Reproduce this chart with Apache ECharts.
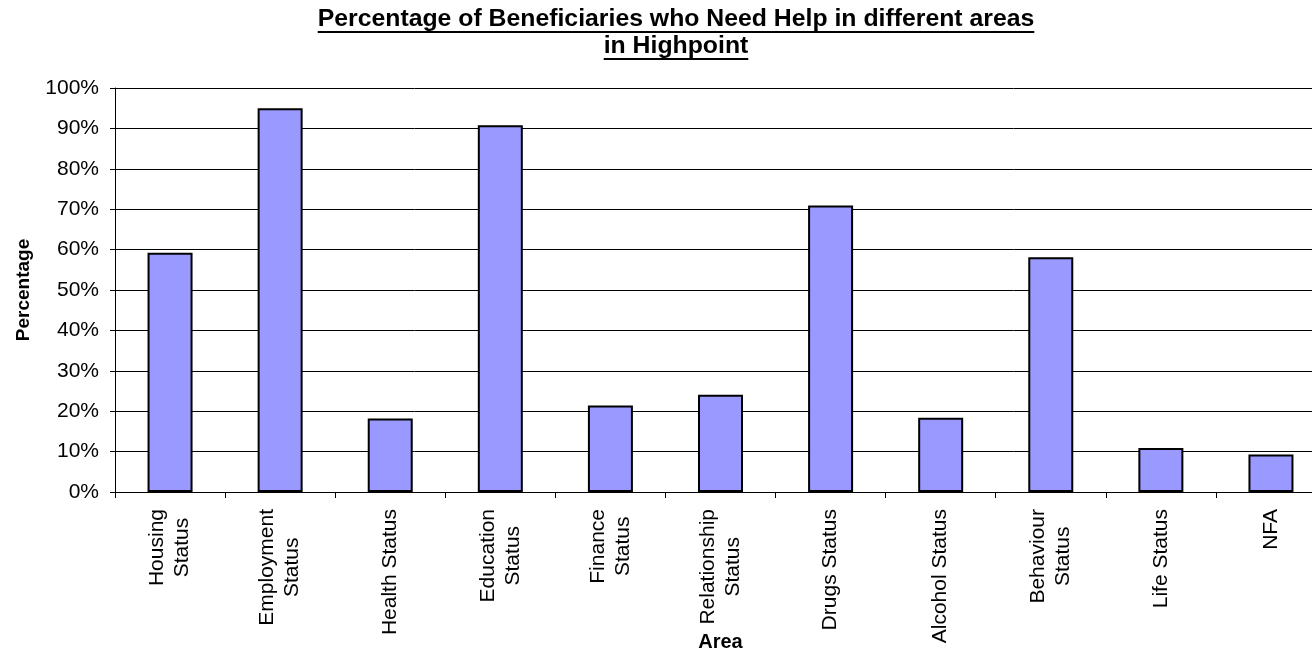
<!DOCTYPE html>
<html>
<head>
<meta charset="utf-8">
<script src="https://cdn.jsdelivr.net/npm/echarts@6/dist/echarts.min.js"></script>
<style>
html,body{margin:0;padding:0;background:#fff;overflow:hidden;}
#chart{width:1312px;height:651px;}
</style>
</head>
<body>
<div id="chart"></div>
<script>
const categories = ['Housing\nStatus','Employment\nStatus','Health Status','Education\nStatus','Finance\nStatus','Relationship\nStatus','Drugs Status','Alcohol Status','Behaviour\nStatus','Life Status','NFA'];
const percentages = [59.2, 95.0, 18.2, 90.8, 21.4, 24.1, 70.9, 18.4, 58.1, 10.9, 9.3];
const titleLines = ['Percentage of Beneficiaries who Need Help in different areas','in Highpoint'];
const yAxisName = 'Percentage';
const xAxisName = 'Area';

const FONT = '"Liberation Sans", Arial, sans-serif';
const titleSize = 24.8, titleLH = 27, titleCenter = 676, titleTop = 6;

function measure(text, size, weight){
  const c = document.createElement('canvas').getContext('2d');
  c.font = weight + ' ' + size + 'px ' + FONT;
  return c.measureText(text).width;
}
const underlines = titleLines.map((t,i)=>{
  const w = measure(t, titleSize, 'bold');
  const y = titleTop + titleLH*(i+1) - 1;
  return {type:'line', shape:{x1:titleCenter - w/2, y1:y, x2:titleCenter + w/2, y2:y}, style:{stroke:'#000', lineWidth:2}};
});

const chart = echarts.init(document.getElementById('chart'));
chart.setOption({
  animation:false,
  backgroundColor:'#fff',
  title:{
    text: titleLines.join('\n'),
    left: titleCenter, top: titleTop, textAlign:'center', padding:0,
    textStyle:{fontFamily:FONT, fontSize:titleSize, fontWeight:'bold', color:'#000', lineHeight:titleLH}
  },
  graphic: underlines,
  grid:{left:115, top:88, width:1211, height:404, containLabel:false, outerBoundsMode:'none'},
  xAxis:{
    type:'category', data:categories,
    name:xAxisName, nameLocation:'middle', nameGap:140, nameMoveOverlap:false,
    nameTextStyle:{fontFamily:FONT, fontSize:20, fontWeight:'bold', color:'#000'},
    axisLine:{lineStyle:{color:'#000', width:1}},
    axisTick:{show:true, length:6, lineStyle:{color:'#000'}},
    axisLabel:{
      rotate:90, interval:0, margin:17, color:'#000',
      formatter: v => v.split('\n').map(s => '{c|' + s + '}').join('\n'),
      rich:{c:{align:'center', fontFamily:FONT, fontSize:21, lineHeight:25, color:'#000'}}
    }
  },
  yAxis:{
    type:'value', min:0, max:100, interval:10,
    name:yAxisName, nameLocation:'middle', nameGap:82, nameRotate:90, nameMoveOverlap:false,
    nameTextStyle:{fontFamily:FONT, fontSize:19, fontWeight:'bold', color:'#000'},
    axisLine:{show:true, lineStyle:{color:'#000', width:1}},
    axisTick:{show:true, length:5, lineStyle:{color:'#000'}},
    axisLabel:{formatter:'{value}%', margin:16, fontFamily:FONT, fontSize:21, color:'#000'},
    splitLine:{show:true, lineStyle:{color:'#000', width:1}}
  },
  series:[{
    type:'bar', data:percentages, barWidth:45,
    itemStyle:{color:'#9999FF', borderColor:'#000', borderWidth:2}
  }]
});
</script>
</body>
</html>
